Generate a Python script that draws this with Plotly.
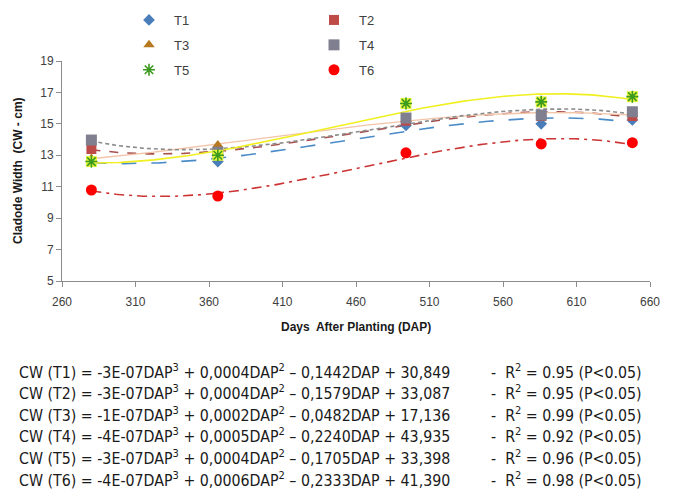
import numpy as np
import plotly.graph_objects as go

# ---------------- data ----------------
dap = [280, 366, 494, 586, 648]
series_names = ["T1", "T2", "T3", "T4", "T5", "T6"]
t1 = [12.6, 12.6, 14.9, 15.0, 15.25]
t2 = [13.4, 13.1, 15.2, 15.5, 15.5]
t3 = [12.8, 13.65, 15.3, 15.6, 15.6]
t4 = [13.97, 13.2, 15.37, 15.56, 15.77]
t5 = [12.6, 13.0, 16.3, 16.4, 16.73]
t6 = [10.79, 10.41, 13.16, 13.72, 13.8]

x_ticks = [260, 310, 360, 410, 460, 510, 560, 610, 660]
y_ticks = [5, 7, 9, 11, 13, 15, 17, 19]

equations = [
    "CW (T1) = -3E-07DAP<sup>3</sup> + 0,0004DAP<sup>2</sup> – 0,1442DAP + 30,849",
    "CW (T2) = -3E-07DAP<sup>3</sup> + 0,0004DAP<sup>2</sup> – 0,1579DAP + 33,087",
    "CW (T3) = -1E-07DAP<sup>3</sup> + 0,0002DAP<sup>2</sup> – 0,0482DAP + 17,136",
    "CW (T4) = -4E-07DAP<sup>3</sup> + 0,0005DAP<sup>2</sup> – 0,2240DAP + 43,935",
    "CW (T5) = -3E-07DAP<sup>3</sup> + 0,0004DAP<sup>2</sup> – 0,1705DAP + 33,398",
    "CW (T6) = -4E-07DAP<sup>3</sup> + 0,0006DAP<sup>2</sup> – 0,2333DAP + 41,390",
]
r2_labels = [
    "-  R<sup>2</sup> = 0.95 (P<0.05)",
    "-  R<sup>2</sup> = 0.95 (P<0.05)",
    "-  R<sup>2</sup> = 0.99 (P<0.05)",
    "-  R<sup>2</sup> = 0.92 (P<0.05)",
    "-  R<sup>2</sup> = 0.96 (P<0.05)",
    "-  R<sup>2</sup> = 0.98 (P<0.05)",
]

# ---------------- layout geometry ----------------
# the page body adds an 8px offset at top/left, so the figure is 8px smaller
# and reference pixel positions are shifted by OFF
OFF = 8
W, H = 678 - OFF, 495 - OFF
L, R, T, B = 62 - OFF, 28, 61 - OFF, 214
PW = W - L - R
PH = H - T - B


def px_x(px):
    return (px - OFF - L) / PW


def px_y(py):
    return (H - B - (py - OFF)) / PH


values = [t1, t2, t3, t4, t5, t6]

marker_styles = [
    dict(symbol="diamond", color="#4A7EBB", size=9),
    dict(symbol="square", color="#BE4B48", size=10),
    dict(symbol="triangle-up", color="#B7791F", size=10),
    dict(symbol="square", color="#7F7F8F", size=11),
    dict(symbol="square", color="#E6F53A", size=11),
    dict(symbol="circle", color="#FF0000", size=11),
]
line_styles = [
    dict(color="#4A8CC8", dash="longdash", width=1.6),
    dict(color="#A84E4C", dash="dash", width=1.6),
    dict(color="#F2C4A8", dash="solid", width=1.3),
    dict(color="#8C8C8C", dash="4px,3px", width=1.6),
    dict(color="#F0F020", dash="solid", width=1.6),
    dict(color="#CC3333", dash="10px,5px,3px,5px", width=1.6),
]

fig = go.Figure()

xs = np.linspace(min(dap), max(dap), 200)
# trendlines (3rd-order polynomial fits of each series, like the spreadsheet trendline)
for i, (name, vals) in enumerate(zip(series_names, values)):
    coef = np.polyfit(dap, vals, 3)
    fig.add_trace(go.Scatter(
        x=xs, y=np.polyval(coef, xs), mode="lines",
        line=line_styles[i], showlegend=False, hoverinfo="skip"))

legend_of = ["legend", "legend2", "legend", "legend2", "legend", "legend2"]
for i, (name, vals) in enumerate(zip(series_names, values)):
    ms = marker_styles[i]
    if name == "T5":
        fig.add_trace(go.Scatter(
            x=dap, y=vals, mode="markers", name=name,
            marker=dict(symbol="square", color=ms["color"], size=ms["size"],
                        line=dict(width=0)),
            legend=legend_of[i], legendgroup=name, showlegend=False))
        fig.add_trace(go.Scatter(
            x=dap, y=vals, mode="markers", name=name,
            marker=dict(symbol="asterisk-open", color="#3C9A1E", size=10,
                        line=dict(width=1.6, color="#3C9A1E")),
            legend=legend_of[i], legendgroup=name))
    else:
        fig.add_trace(go.Scatter(
            x=dap, y=vals, mode="markers", name=name,
            marker=dict(symbol=ms["symbol"], color=ms["color"], size=ms["size"],
                        line=dict(width=0)),
            legend=legend_of[i], legendgroup=name))

# equations under the chart
eq_font = dict(family="Liberation Sans Narrow, DejaVu Sans Condensed, Arial", size=15.8, color="#1a1a1a")
for k, (eq, r2) in enumerate(zip(equations, r2_labels)):
    ypx = 371 + k * 21.6
    fig.add_annotation(text=eq, xref="paper", yref="paper", x=px_x(17), y=px_y(ypx),
                       xanchor="left", yanchor="middle", showarrow=False, font=eq_font)
    fig.add_annotation(text=r2, xref="paper", yref="paper", x=px_x(489), y=px_y(ypx),
                       xanchor="left", yanchor="middle", showarrow=False, font=eq_font)

title_font = dict(family="Liberation Sans, Arial", size=12, color="#1a1a1a")
fig.add_annotation(text="<b>Cladode Width  (CW - cm)</b>", textangle=-90,
                   xref="paper", yref="paper", x=px_x(18), y=px_y(171),
                   xanchor="center", yanchor="middle", showarrow=False, font=title_font)
fig.add_annotation(text="<b>Days  After Planting (DAP)</b>",
                   xref="paper", yref="paper", x=px_x(356), y=px_y(327),
                   xanchor="center", yanchor="middle", showarrow=False, font=title_font)

axis_font = dict(family="Liberation Sans, Arial", size=12, color="#404040")
legend_common = dict(
    orientation="v", bgcolor="rgba(0,0,0,0)", font=dict(family="Liberation Sans, Arial", size=13, color="#404040"),
    traceorder="grouped", tracegroupgap=5, xanchor="left", yanchor="top", itemwidth=40)

fig.update_layout(
    width=W, height=H,
    margin=dict(l=L, r=R, t=T, b=B, autoexpand=False),
    plot_bgcolor="white", paper_bgcolor="white",
    xaxis=dict(range=[260, 660], tickvals=x_ticks, ticks="outside", ticklen=5,
               tickcolor="#8c8c8c", showline=True, linecolor="#8c8c8c", linewidth=1,
               showgrid=False, zeroline=False, tickfont=axis_font, ticklabelstandoff=5),
    yaxis=dict(range=[5, 19], tickvals=y_ticks, ticks="outside", ticklen=5,
               tickcolor="#8c8c8c", showline=True, linecolor="#8c8c8c", linewidth=1,
               showgrid=False, zeroline=False, tickfont=axis_font),
    legend=dict(x=px_x(124), y=px_y(5), **legend_common),
    legend2=dict(x=px_x(309), y=px_y(5), **legend_common),
)

fig.write_html("out.html")
